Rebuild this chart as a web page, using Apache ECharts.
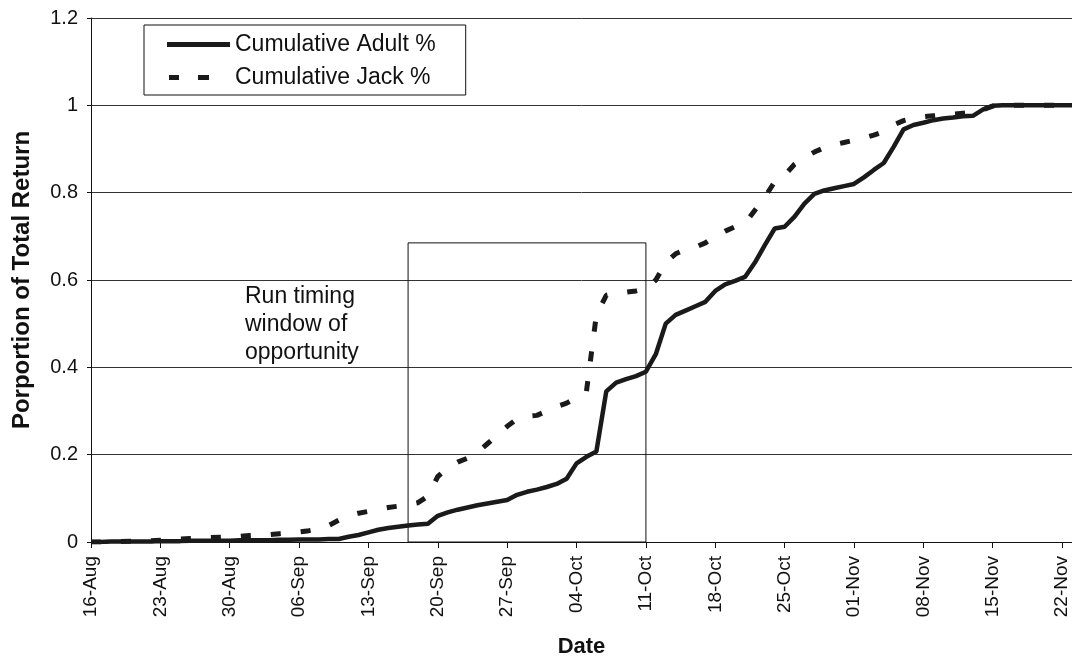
<!DOCTYPE html>
<html>
<head>
<meta charset="utf-8">
<script src="https://cdn.jsdelivr.net/npm/echarts@6/dist/echarts.min.js"></script>
<style>
html,body{margin:0;padding:0;background:#fff;}
#c{width:1072px;height:656px;}
</style>
</head>
<body>
<div id="c"></div>
<script>
// Dates: 16-Aug .. 23-Nov (daily)
const monthNames = ['Jan','Feb','Mar','Apr','May','Jun','Jul','Aug','Sep','Oct','Nov','Dec'];
const startDay = {month: 7, day: 16};
const dayCount = 100;
const categories = [];
(function(){
  const d = new Date(Date.UTC(2001, startDay.month, startDay.day));
  for (let i = 0; i < dayCount; i++) {
    const dd = String(d.getUTCDate()).padStart(2,'0');
    categories.push(dd + '-' + monthNames[d.getUTCMonth()]);
    d.setUTCDate(d.getUTCDate() + 1);
  }
})();

const adultPct = [
  0.000,0.000,0.001,0.001,0.001,0.001,0.001,
  0.002,0.002,0.002,0.003,0.003,0.003,0.003,
  0.003,0.004,0.004,0.004,0.004,0.005,0.005,
  0.006,0.006,0.006,0.007,0.007,0.012,0.016,
  0.022,0.028,0.032,0.035,0.038,0.040,0.042,
  0.060,0.068,0.074,0.079,0.084,0.088,0.092,
  0.096,0.108,0.115,0.120,0.126,0.133,0.145,
  0.180,0.195,0.207,0.345,0.365,0.373,0.380,
  0.390,0.430,0.500,0.520,0.530,0.540,0.550,
  0.575,0.590,0.598,0.607,0.640,0.680,0.718,
  0.722,0.745,0.775,0.797,0.805,0.810,0.815,
  0.820,0.835,0.852,0.868,0.905,0.945,0.955,
  0.960,0.966,0.970,0.972,0.975,0.976,0.990,
  0.999,1.000,1.000,1.000,1.000,1.000,1.000,
  1.000,1.000
];

const jackPct = [
  0.000,0.000,0.001,0.001,0.002,0.002,0.003,
  0.004,0.005,0.007,0.008,0.009,0.010,0.011,
  0.012,0.013,0.015,0.016,0.017,0.019,0.021,
  0.023,0.026,0.030,0.038,0.050,0.060,0.066,
  0.070,0.075,0.079,0.082,0.085,0.090,0.105,
  0.150,0.170,0.183,0.192,0.205,0.225,0.245,
  0.265,0.282,0.288,0.290,0.300,0.310,0.318,
  0.330,0.345,0.520,0.565,0.570,0.572,0.575,
  0.580,0.600,0.640,0.660,0.670,0.675,0.685,
  0.700,0.712,0.722,0.730,0.760,0.790,0.825,
  0.840,0.865,0.880,0.893,0.903,0.910,0.915,
  0.920,0.925,0.932,0.940,0.955,0.965,0.971,
  0.974,0.976,0.978,0.980,0.982,0.984,0.990,
  0.998,1.000,1.000,1.000,1.000,1.000,1.000,
  1.000,1.000
];

const seriesNames = ['Cumulative Adult %', 'Cumulative Jack %'];
const windowStart = '17-Sep';
const windowEnd = '11-Oct';
const windowTop = 0.685;
const windowLabel = 'Run timing\nwindow of\nopportunity';
const yTitle = 'Porportion of Total Return';
const xTitle = 'Date';

const font = 'Arial, "Liberation Sans", sans-serif';
const chart = echarts.init(document.getElementById('c'), null, {renderer: 'canvas'});
chart.setOption({
  backgroundColor: '#fff',
  animation: false,
  textStyle: {fontFamily: font},
  grid: {left: 91, right: 0, top: 18, bottom: 114, containLabel: false, outerBoundsMode: 'none'},
  legend: {
    orient: 'vertical',
    left: 144, top: 25,
    padding: [8, 30, 6, 23],
    itemGap: 10,
    itemWidth: 63, itemHeight: 14,
    borderColor: '#111', borderWidth: 1,
    backgroundColor: '#fff',
    itemStyle: {borderWidth: 0},
    textStyle: {fontSize: 23, lineHeight: 23, color: '#111', fontFamily: font},
    data: [
      {name: seriesNames[0], icon: 'path://M0,0 L63,0 L63,5 L0,5 Z'},
      {name: seriesNames[1], icon: 'path://M2,0 L12,0 L12,5 L2,5 Z M31,0 L42,0 L42,5 L31,5 Z M0,0 L0,5 M63,0 L63,5'}
    ]
  },
  xAxis: {
    type: 'category',
    data: categories,
    boundaryGap: false,
    name: xTitle,
    nameLocation: 'middle',
    nameGap: 94,
    nameTextStyle: {fontSize: 22, fontWeight: 'bold', color: '#111', fontFamily: font},
    axisLine: {lineStyle: {color: '#111', width: 1}},
    axisTick: {show: true, interval: 6, length: 6, lineStyle: {color: '#111'}},
    axisLabel: {interval: 6, rotate: 90, fontSize: 19, color: '#111', margin: 14, fontFamily: font},
    splitLine: {show: false}
  },
  yAxis: {
    type: 'value',
    min: 0, max: 1.2, interval: 0.2,
    name: yTitle,
    nameLocation: 'middle',
    nameGap: 57,
    nameTextStyle: {fontSize: 24, fontWeight: 'bold', color: '#111', fontFamily: font},
    axisLine: {show: true, lineStyle: {color: '#111', width: 1}},
    axisTick: {show: true, length: 4, lineStyle: {color: '#111'}},
    axisLabel: {fontSize: 20, color: '#111', margin: 13, fontFamily: font},
    splitLine: {show: true, lineStyle: {color: '#333', width: 1}}
  },
  series: [
    {
      name: seriesNames[0],
      type: 'line',
      data: adultPct,
      symbol: 'none',
      z: 3,
      lineStyle: {color: '#1a1a1a', width: 4.5},
      itemStyle: {color: '#1a1a1a'},
      markArea: {
        silent: true,
        itemStyle: {color: 'rgba(0,0,0,0)', borderColor: '#111', borderWidth: 1},
        data: [[{coord: [windowStart, 0]}, {coord: [windowEnd, windowTop]}]]
      }
    },
    {
      name: seriesNames[1],
      type: 'line',
      data: jackPct,
      symbol: 'none',
      z: 2,
      lineStyle: {color: '#1a1a1a', width: 5, type: [10, 20]},
      itemStyle: {color: '#1a1a1a'}
    }
  ],
  graphic: [
    {
      type: 'text',
      left: 245, top: 283,
      style: {text: windowLabel, font: '23px ' + font, fill: '#111', lineHeight: 28}
    }
  ]
});
</script>
</body>
</html>
